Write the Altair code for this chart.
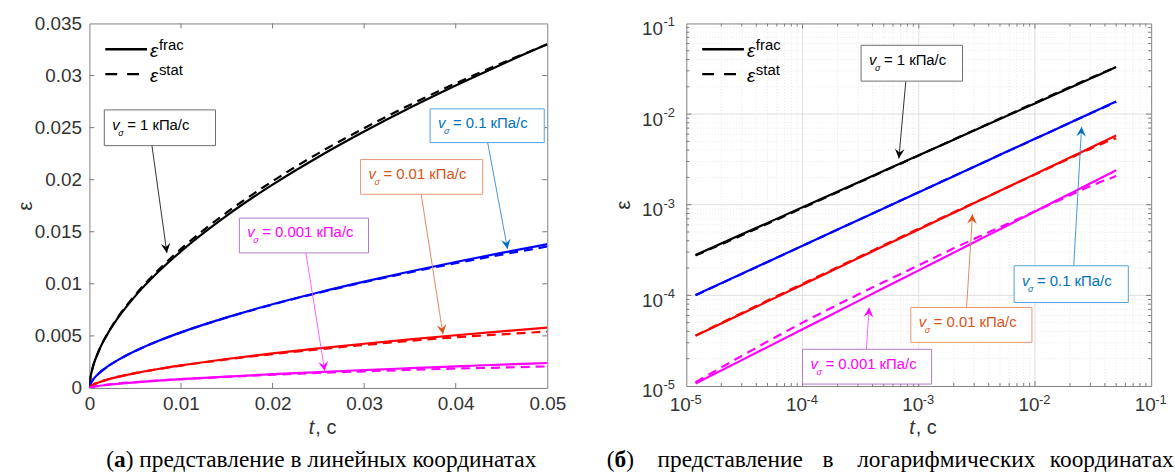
import math
import altair as alt
import pandas as pd

# ---------------- data ----------------
# time samples, s
t_s = [1.2e-5, 3e-5, 1e-4, 3e-4, 1e-3, 2e-3, 3e-3, 5e-3, 7.5e-3, 0.01,
       0.015, 0.02, 0.025, 0.03, 0.035, 0.04, 0.045, 0.05]

# stress rates, kPa/s
rates = ["1", "0.1", "0.01", "0.001"]
rate_colors = ["#000000", "#0000ff", "#ff0000", "#ff00ff"]

# strain, fractional model
frac_1 = [2.78e-4, 4.71e-4, 9.38e-4, 1.76e-3, 3.51e-3, 5.22e-3, 6.58e-3, 8.82e-3, 0.01113,
          0.01312, 0.01655, 0.01952, 0.02218, 0.02462, 0.02690, 0.02904, 0.03107, 0.0330]
frac_01 = [1.01e-4, 1.73e-4, 3.53e-4, 6.75e-4, 1.373e-3, 2.066e-3, 2.62e-3, 3.55e-3, 4.51e-3,
           5.34e-3, 6.78e-3, 8.04e-3, 9.17e-3, 0.01021, 0.01118, 0.01210, 0.01297, 0.0138]
frac_001 = [3.59e-5, 6.28e-5, 1.309e-4, 2.56e-4, 5.34e-4, 8.14e-4, 1.043e-3, 1.423e-3, 1.824e-3,
            2.173e-3, 2.783e-3, 3.316e-3, 3.80e-3, 4.247e-3, 4.665e-3, 5.062e-3, 5.439e-3, 5.80e-3]
frac_0001 = [1.064e-5, 1.93e-5, 4.22e-5, 8.64e-5, 1.887e-4, 2.96e-4, 3.86e-4, 5.37e-4, 6.99e-4,
             8.43e-4, 1.097e-3, 1.323e-3, 1.530e-3, 1.721e-3, 1.903e-3, 2.076e-3, 2.242e-3, 2.40e-3]

# strain, statistical model
stat_1 = [2.75e-4, 4.6e-4, 9.2e-4, 1.74e-3, 3.5e-3, 5.25e-3, 6.65e-3, 8.93e-3, 0.0113,
          0.01335, 0.01685, 0.01985, 0.02253, 0.02494, 0.02718, 0.02925, 0.03118, 0.0330]
stat_01 = [1.0e-4, 1.72e-4, 3.52e-4, 6.76e-4, 1.375e-3, 2.07e-3, 2.62e-3, 3.55e-3, 4.5e-3,
           5.33e-3, 6.76e-3, 8.01e-3, 9.13e-3, 0.01015, 0.01110, 0.01198, 0.01280, 0.01358]
stat_001 = [3.6e-5, 6.4e-5, 1.34e-4, 2.62e-4, 5.45e-4, 8.25e-4, 1.05e-3, 1.42e-3, 1.81e-3,
            2.15e-3, 2.74e-3, 3.25e-3, 3.71e-3, 4.13e-3, 4.52e-3, 4.87e-3, 5.15e-3, 5.42e-3]
stat_0001 = [1.1e-5, 2.15e-5, 5.0e-5, 1.02e-4, 2.15e-4, 3.3e-4, 4.2e-4, 5.65e-4, 7.15e-4,
             8.45e-4, 1.07e-3, 1.27e-3, 1.45e-3, 1.6e-3, 1.74e-3, 1.86e-3, 1.96e-3, 2.07e-3]

ann_labels = ["= 1 кПа/с", "= 0.1 кПа/с", "= 0.01 кПа/с", "= 0.001 кПа/с"]
ann_text_colors = ["#000000", "#0072bd", "#d95319", "#ff00ff"]
ann_edge_colors = ["#6e6e6e", "#4fa3dc", "#eb9570", "#b07cc6"]
ann_line_colors = ["#1a1a1a", "#2f8ccc", "#e07a48", "#ff4dff"]

# callouts, linear axes (box corners, arrow tail and tip)
lin_box_t0 = [0.00163, 0.03720, 0.02961, 0.01638]
lin_box_t1 = [0.01377, 0.04967, 0.04295, 0.03048]
lin_box_e0 = [0.02327, 0.02356, 0.01860, 0.01297]
lin_box_e1 = [0.02670, 0.02680, 0.02193, 0.01631]
lin_tail_t = [0.00683, 0.04349, 0.03623, 0.02364]
lin_tip_t = [0.00846, 0.04566, 0.03861, 0.02570]
lin_tip_e = [0.01297, 0.01335, 0.00515, 0.00162]

# callouts, logarithmic axes
log_box_t0 = [3.19e-4, 6.62e-3, 8.55e-4, 1.0e-4]
log_box_t1 = [2.38e-3, 6.36e-2, 9.42e-3, 1.29e-3]
log_box_e0 = [2.31e-2, 8.34e-5, 3.03e-5, 1.05e-5]
log_box_e1 = [5.74e-2, 2.12e-4, 7.35e-5, 2.54e-5]
log_tail_t = [7.74e-4, 2.07e-2, 2.47e-3, 3.39e-4]
log_tip_t = [6.74e-4, 2.52e-2, 2.90e-3, 3.74e-4]
log_tip_e = [3.23e-3, 7.25e-3, 7.87e-4, 7.35e-5]

lin_x_ticks = [0, 0.01, 0.02, 0.03, 0.04, 0.05]
lin_y_ticks = [0, 0.005, 0.01, 0.015, 0.02, 0.025, 0.03, 0.035]
decades = [1e-5, 1e-4, 1e-3, 1e-2, 1e-1]
decade_sup = ["-5", "-4", "-3", "-2", "-1"]
minor_log = [m * 10.0 ** k for k in range(-5, -1) for m in range(2, 10)]

# caption words and their left offsets (px from the plot's left edge)
cap_a_words = ["(", "а", ") представление в линейных координатах"]
cap_a_offsets = [17, 24.8, 36.6]
cap_a_weights = ["normal", "bold", "normal"]
cap_b_words = ["(", "б", ")", "представление", "в", "логарифмических", "координатах"]
cap_b_offsets = [-80, -72.2, -60.45, -29, 137, 172, 366]
cap_b_weights = ["normal", "bold", "normal", "normal", "normal", "normal", "normal"]

# ---------------- layout / style ----------------
WL, HL = 461, 367
WR, HR = 468, 365
SANS = "Liberation Sans"
SERIF = "Liberation Serif"
TXT = "#333333"
ARROW_HEAD = "M0,0 L0.5,1 L0,0.62 L-0.5,1 Z"
CAPTION_Y = 440  # caption centre line, px below the plot tops

rows = []
for rate, fr, st in zip(rates, [frac_1, frac_01, frac_001, frac_0001],
                        [stat_1, stat_01, stat_001, stat_0001]):
    for ti, a, b in zip(t_s, fr, st):
        rows.append({"t": ti, "eps": a, "rate": rate, "kind": "frac"})
        rows.append({"t": ti, "eps": b, "rate": rate, "kind": "stat"})
curves = pd.DataFrame(rows)


def lin_px(t, e):
    return t / 0.05 * WL, HL - e / 0.035 * HL


def log_px(t, e):
    return (math.log10(t) + 5) / 4 * WR, HR - (math.log10(e) + 5) / 4 * HR


def callouts(bt0, bt1, be0, be1, tail_t, tip_t, tip_e, to_px, logy):
    recs = []
    for i in range(4):
        mid = math.sqrt(be0[i] * be1[i]) if logy else (be0[i] + be1[i]) / 2
        x0, y0 = to_px(tail_t[i], be0[i])
        x1, y1 = to_px(tip_t[i], tip_e[i])
        ang = math.degrees(math.atan2(x1 - x0, -(y1 - y0))) % 360
        recs.append({"bx0": bt0[i], "bx1": bt1[i], "by0": be0[i], "by1": be1[i],
                     "ty": mid, "ax0": tail_t[i], "ay0": be0[i], "ax1": tip_t[i],
                     "ay1": tip_e[i], "ang": ang, "label": ann_labels[i],
                     "fg": ann_text_colors[i], "edge": ann_edge_colors[i],
                     "line": ann_line_colors[i]})
    return pd.DataFrame(recs)


def build_panel(xs, ys, ax_x, ax_y, W, H, ann, caption, x_ticks, y_ticks,
                minor=None, major_grid=None, sup=False):
    def X(f):
        return alt.X(f, type="quantitative", scale=xs, axis=ax_x)

    def Y(f):
        return alt.Y(f, type="quantitative", scale=ys, axis=ax_y)

    layers = []
    # grid (logarithmic panel)
    if minor is not None:
        gx = pd.DataFrame({"v": minor})
        layers.append(alt.Chart(gx).mark_rule(color="#e3e3e3", strokeWidth=0.8, strokeDash=[1, 2])
                      .encode(x=X("v")))
        layers.append(alt.Chart(gx).mark_rule(color="#e3e3e3", strokeWidth=0.8, strokeDash=[1, 2])
                      .encode(y=Y("v")))
        gm = pd.DataFrame({"v": major_grid})
        layers.append(alt.Chart(gm).mark_rule(color="#d6d6d6", strokeWidth=0.8).encode(x=X("v")))
        layers.append(alt.Chart(gm).mark_rule(color="#d6d6d6", strokeWidth=0.8).encode(y=Y("v")))

    color = alt.Color("rate:N", scale=alt.Scale(domain=rates, range=rate_colors), legend=None)
    layers.append(alt.Chart(curves[curves.kind == "frac"]).mark_line(
        strokeWidth=2.2, interpolate="monotone", clip=True).encode(
        x=X("t"), y=Y("eps"), color=color, detail="rate:N"))
    layers.append(alt.Chart(curves[curves.kind == "stat"]).mark_line(
        strokeWidth=2.2, interpolate="monotone", clip=True, strokeDash=[9, 6]).encode(
        x=X("t"), y=Y("eps"), color=color, detail="rate:N"))

    # inward ticks on all four sides
    tx = pd.DataFrame({"v": x_ticks})
    ty = pd.DataFrame({"v": y_ticks})
    tc = "#7a7a7a"
    layers += [
        alt.Chart(tx).mark_rule(color=tc).encode(x=X("v"), y=alt.value(H), y2=alt.value(H - 5)),
        alt.Chart(tx).mark_rule(color=tc).encode(x=X("v"), y=alt.value(0), y2=alt.value(5)),
        alt.Chart(ty).mark_rule(color=tc).encode(y=Y("v"), x=alt.value(0), x2=alt.value(5)),
        alt.Chart(ty).mark_rule(color=tc).encode(y=Y("v"), x=alt.value(W), x2=alt.value(W - 5)),
    ]
    if minor is not None:
        mx = pd.DataFrame({"v": minor})
        layers += [
            alt.Chart(mx).mark_rule(color=tc).encode(x=X("v"), y=alt.value(H), y2=alt.value(H - 3)),
            alt.Chart(mx).mark_rule(color=tc).encode(x=X("v"), y=alt.value(0), y2=alt.value(3)),
            alt.Chart(mx).mark_rule(color=tc).encode(y=Y("v"), x=alt.value(0), x2=alt.value(3)),
            alt.Chart(mx).mark_rule(color=tc).encode(y=Y("v"), x=alt.value(W), x2=alt.value(W - 3)),
        ]

    # exponent superscripts of the decade labels
    if sup:
        sd = pd.DataFrame({"v": decades, "s": decade_sup})
        layers.append(alt.Chart(sd).mark_text(font=SANS, fontSize=13, align="left",
                                               baseline="middle", color=TXT, dx=4)
                      .encode(x=X("v"), y=alt.value(H + 14), text="s:N"))
        layers.append(alt.Chart(sd).mark_text(font=SANS, fontSize=13, align="left",
                                               baseline="middle", color=TXT, dy=-1)
                      .encode(y=Y("v"), x=alt.value(-23), text="s:N"))

    # legend
    leg = pd.DataFrame({"k": ["frac", "stat"]})
    layers.append(alt.Chart(leg.iloc[[0]]).mark_rule(color="black", strokeWidth=2.4)
                  .encode(x=alt.value(16), x2=alt.value(58), y=alt.value(26)))
    layers.append(alt.Chart(leg.iloc[[1]]).mark_rule(color="black", strokeWidth=2.4, strokeDash=[12, 10])
                  .encode(x=alt.value(16), x2=alt.value(58), y=alt.value(51)))
    for k, yb in (("frac", 34), ("stat", 59)):
        d = pd.DataFrame({"e": ["ε"], "s": [k]})
        layers.append(alt.Chart(d).mark_text(font=SANS, fontSize=19, fontStyle="italic",
                                              align="left", baseline="alphabetic", color="black")
                      .encode(x=alt.value(61), y=alt.value(yb), text="e:N"))
        layers.append(alt.Chart(d).mark_text(font=SANS, fontSize=15, align="left",
                                              baseline="alphabetic", color="black")
                      .encode(x=alt.value(70), y=alt.value(yb - 7), text="s:N"))

    # callouts: arrows, boxes, texts
    layers.append(alt.Chart(ann).mark_rule(strokeWidth=0.9).encode(
        x=X("ax0"), y=Y("ay0"), x2="ax1", y2="ay1", color=alt.Color("line:N", scale=None)))
    layers.append(alt.Chart(ann).mark_point(shape=ARROW_HEAD, size=380, filled=True, opacity=1,
                                            strokeWidth=0).encode(
        x=X("ax1"), y=Y("ay1"), angle=alt.Angle("ang:Q", scale=None),
        color=alt.Color("fg:N", scale=None)))
    layers.append(alt.Chart(ann).mark_rect(fill="white", strokeWidth=1).encode(
        x=X("bx0"), x2="bx1", y=Y("by0"), y2="by1", stroke=alt.Stroke("edge:N", scale=None)))
    layers.append(alt.Chart(ann).mark_text(font=SANS, fontSize=15, fontStyle="italic",
                                           align="left", baseline="middle", dx=8, dy=-3).encode(
        x=X("bx0"), y=Y("ty"), text=alt.value("v"), color=alt.Color("fg:N", scale=None)))
    layers.append(alt.Chart(ann).mark_text(font=SANS, fontSize=9, fontStyle="italic",
                                           align="left", baseline="middle", dx=14, dy=5).encode(
        x=X("bx0"), y=Y("ty"), text=alt.value("σ"), color=alt.Color("fg:N", scale=None)))
    layers.append(alt.Chart(ann).mark_text(font=SANS, fontSize=15, align="left",
                                           baseline="middle", dx=23, dy=-3).encode(
        x=X("bx0"), y=Y("ty"), text="label:N", color=alt.Color("fg:N", scale=None)))

    # x-axis title "t, с"
    xt = pd.DataFrame({"a": ["t"], "b": [", с"]})
    layers.append(alt.Chart(xt).mark_text(font=SANS, fontSize=20, fontStyle="italic", align="right",
                                           baseline="middle", color=TXT)
                  .encode(x=alt.value(W / 2 - 4), y=alt.value(407), text="a:N"))
    layers.append(alt.Chart(xt).mark_text(font=SANS, fontSize=20, align="left",
                                           baseline="middle", color=TXT)
                  .encode(x=alt.value(W / 2 - 3), y=alt.value(407), text="b:N"))

    # caption under the panel
    words, offsets, weights = caption
    for txt, off, wgt in zip(words, offsets, weights):
        d = pd.DataFrame({"c": [txt]})
        layers.append(alt.Chart(d).mark_text(font=SERIF, fontSize=23.5, fontWeight=wgt,
                                              align="left", baseline="middle", color="black")
                      .encode(x=alt.value(off), y=alt.value(CAPTION_Y), text="c:N"))

    return alt.layer(*layers).properties(width=W, height=H)


common_axis = dict(tickSize=0, domain=False, grid=False, labelFont=SANS, labelFontSize=19,
                   labelColor=TXT, titleFont=SANS, titleFontSize=21, titleColor=TXT,
                   titleFontWeight="normal", labelOverlap=False, labelFlush=False)

# ---- left panel: linear axes ----
xs_l = alt.Scale(domain=[0, 0.05], nice=False, zero=False)
ys_l = alt.Scale(domain=[0, 0.035], nice=False, zero=False)
ax_xl = alt.Axis(values=lin_x_ticks, format="~g", labelPadding=7, title=None, **common_axis)
ax_yl = alt.Axis(values=lin_y_ticks, format="~g", labelPadding=8, title="ε", titleX=-64,
                 titleY=HL / 2, titleAngle=270, titleAlign="center", titleBaseline="middle",
                 **common_axis)
ann_l = callouts(lin_box_t0, lin_box_t1, lin_box_e0, lin_box_e1, lin_tail_t, lin_tip_t,
                 lin_tip_e, lin_px, False)
left = build_panel(xs_l, ys_l, ax_xl, ax_yl, WL, HL, ann_l,
                   (cap_a_words, cap_a_offsets, cap_a_weights),
                   lin_x_ticks[1:-1], lin_y_ticks[1:-1])

# ---- right panel: logarithmic axes ----
xs_r = alt.Scale(type="log", domain=[1e-5, 1e-1], nice=False)
ys_r = alt.Scale(type="log", domain=[1e-5, 1e-1], nice=False)
ax_xr = alt.Axis(values=decades, labelExpr="'10'", labelAlign="right", labelOffset=4,
                 labelPadding=10, title=None, **common_axis)
ax_yr = alt.Axis(values=decades, labelExpr="'10'", labelPadding=24, labelOffset=5, title="ε",
                 titleX=-63, titleY=HR / 2, titleAngle=270, titleAlign="center",
                 titleBaseline="middle", **common_axis)
ann_r = callouts(log_box_t0, log_box_t1, log_box_e0, log_box_e1, log_tail_t, log_tip_t,
                 log_tip_e, log_px, True)
right = build_panel(xs_r, ys_r, ax_xr, ax_yr, WR, HR, ann_r,
                    (cap_b_words, cap_b_offsets, cap_b_weights),
                    decades[1:-1], decades[1:-1], minor=minor_log,
                    major_grid=decades[1:-1], sup=True)

chart = (
    alt.hconcat(left, right, spacing=140, bounds="flush")
    .properties(padding={"left": 14, "top": 12, "right": 0, "bottom": 0})
    .configure_view(stroke="#808080", strokeWidth=1)
)

chart.save("out.html", embed_options={"renderer": "svg", "actions": False})
